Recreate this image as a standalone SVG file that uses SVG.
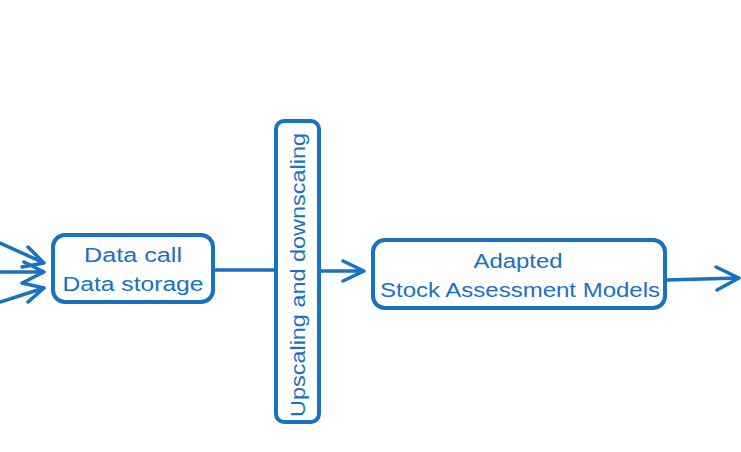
<svg xmlns="http://www.w3.org/2000/svg" width="741" height="452" viewBox="0 0 741 452">
<defs>
<style>
.box{fill:none;stroke:#1971c2;stroke-width:4}
.ln{fill:none;stroke:#1971c2;stroke-width:3.5;stroke-linecap:round;stroke-linejoin:round}
.t{font-family:"Liberation Sans",Arial,sans-serif;font-size:20px;fill:#1971c2;text-anchor:middle}
</style>
</defs>
<rect width="741" height="452" fill="#ffffff"/>
<g id="connectors">
<path class="ln" d="M0 243 L44 263 M28 247 L44 263 L22 267"/>
<path class="ln" d="M0 272 L44 272 M24 262 L44 272 L24 282"/>
<path class="ln" d="M0 302 L44 288 M22 283 L44 288 L28 302"/>
<path class="ln" d="M214 270 L276 270"/>
<path class="ln" d="M320 271 L364 271 M343 261 L364 271 L343 281"/>
<path class="ln" d="M666 280 L739 278 M716 267 L739 278 L717 290"/>
</g>
<g id="data">
<rect class="box" x="53" y="235" width="160" height="67" rx="12"/>
<text class="t" x="133" y="262" textLength="98" lengthAdjust="spacingAndGlyphs">Data call</text>
<text class="t" x="133" y="291" textLength="141" lengthAdjust="spacingAndGlyphs">Data storage</text>
</g>
<g id="scaling">
<rect class="box" x="276" y="121" width="43" height="301" rx="8"/>
<text class="t" transform="translate(305 275) rotate(-90)" x="0" y="0" textLength="284" lengthAdjust="spacingAndGlyphs">Upscaling and downscaling</text>
</g>
<g id="models">
<rect class="box" x="373" y="240" width="292" height="68" rx="12"/>
<text class="t" x="518" y="268" textLength="89" lengthAdjust="spacingAndGlyphs">Adapted</text>
<text class="t" x="520" y="297" textLength="280" lengthAdjust="spacingAndGlyphs">Stock Assessment Models</text>
</g>
</svg>
